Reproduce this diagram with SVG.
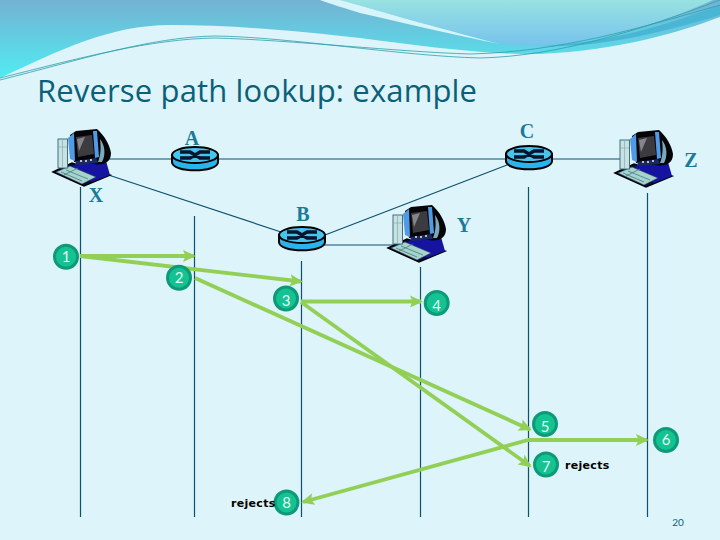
<svg xmlns="http://www.w3.org/2000/svg" width="720" height="540" viewBox="0 0 720 540">
<style>
.title{font-family:"Open Sans","Liberation Sans",sans-serif;font-size:31px;fill:#0c5f78}
.lbl{font-family:"Liberation Serif",serif;font-weight:bold;font-size:20px;fill:#1a7a98;text-anchor:middle}
.num{font-family:"Lato","Open Sans",sans-serif;font-size:15px;fill:#e4fbf6;text-anchor:middle}
.rej{font-family:"DejaVu Sans",sans-serif;font-weight:bold;font-size:11px;fill:#000;letter-spacing:.3px}
.pg{font-family:"Lato",sans-serif;font-size:10px;fill:#0c5f78;text-anchor:middle}
.thin{stroke:#0f4f70;stroke-width:1.2;fill:none}
.grn{stroke:#92cf55;stroke-width:3.8;fill:none}
.arr{marker-end:url(#ah)}
.c{fill:#14c391;stroke:#0d9a78;stroke-width:3}
</style>
<defs>
<linearGradient id="g1" x1="0" y1="0" x2="0" y2="1"><stop offset="0" stop-color="#74b2d2"/><stop offset="1" stop-color="#50ecf2"/></linearGradient>
<linearGradient id="g2" x1="0" y1="0" x2="0" y2="1"><stop offset="0" stop-color="#98e2e2"/><stop offset="1" stop-color="#76c2ec"/></linearGradient>
<marker id="ah" markerUnits="userSpaceOnUse" markerWidth="14" markerHeight="14" viewBox="0 0 14 14" refX="11" refY="7" orient="auto"><path d="M0,1 L13,7 L0,13 L2.500,7 Z" fill="#92cf55"/></marker>
<g id="router">
<path d="M-23,0 V7 C-23,18 23,18 23,7 V0 Z" fill="#2bb4ea" stroke="#000" stroke-width="2"/>
<ellipse cx="0" cy="0" rx="23" ry="8" fill="#46c4ee" stroke="#000" stroke-width="2"/>
<path d="M-15,-3 H-5 L5,3 H15 M-15,3 H-5 L5,-3 H15" stroke="#06142c" stroke-width="3.400" fill="none"/>
</g>
<g id="pc">
<path d="M3,47 L22,38 L60,50 L34,61 Z" fill="#04104a" stroke="#000" stroke-width="1.500"/>
<path d="M22,42 L30,35 L44,34 L56,36 L60,50 L42,57 Z" fill="#1414a0"/>
<path d="M6,47 L20,41 L46,52 L32,59 Z" fill="#a4d4cc" stroke="#335" stroke-width=".5"/>
<path d="M11,47 L32,56 M16,45 L38,54 M14,50 L28,43" stroke="#4a7a80" stroke-width=".8" fill="none"/>
<rect x="8" y="14" width="9.500" height="29" fill="#c8e2e4" stroke="#40707e" stroke-width="1"/>
<path d="M8,22 H17 M12.500,14 V43" stroke="#88aab4" stroke-width=".7"/>
<path d="M20,10 L26,6 L47,4 C54,10 60,20 61,28 C61,37 54,41 44,39 L24,37 Z" fill="#050508"/>
<path d="M50,14 C55,20 56,30 52,37 L48,37 C51,30 51,22 50,14 Z" fill="#7caab8"/>
<path d="M18,13 L24,8 L25,36 L20,34 Z" fill="#4f9be6"/>
<path d="M43,6 L47,6 L49,32 L45,33 Z" fill="#4f9be6"/>
<path d="M26,12 L42,10 L44,29 L28,32 Z" fill="#3c3c40"/>
<path d="M27,14 L35,12 L29,26 Z" fill="#85858b"/>
<path d="M25,36 L46,33 L48,38 L27,40 Z" fill="#1a2a60"/>
<circle cx="31" cy="36" r="1" fill="#eee"/><circle cx="36" cy="36" r="1" fill="#eee"/><circle cx="41" cy="35" r="1" fill="#eee"/>
</g>
</defs>

<g id="background">
<rect width="720" height="540" fill="#dcf4fa"/>
<path d="M0,0 H720 V17 C680,32 620,50 540,54 C490,55 430,47 360,38 C290,30 230,25 170,25 C110,25 60,50 0,78 Z" fill="url(#g1)"/>
<path d="M540,46 C610,43 670,24 720,5 V15 C660,33 600,48 540,46 Z" fill="#49b6d6"/>
<path d="M340,0 H713 C680,15 620,40 540,46 C525,46 510,45 498,43 C430,26 380,11 340,0 Z" fill="url(#g2)"/>
<path d="M320,0 H340 C380,11 430,26 500,44 C450,34 400,22 360,13 C345,8 330,4 320,0 Z" fill="#d6f5fa"/>
<path d="M0,80 C80,60 150,37 215,36 C290,37 400,56 480,58 C560,56 640,30 720,0" stroke="#2fa0ac" stroke-width=".8" fill="none"/>
<path d="M0,78 C80,58 150,39 215,38 C290,40 400,52 470,54 C560,52 640,28 720,5" stroke="#2fa0ac" stroke-width=".8" fill="none"/>
<text class="title" x="37" y="102" textLength="440" lengthAdjust="spacing">Reverse path lookup: example</text>
</g>

<g id="connectors">
<path class="thin" d="M108,159 H630"/>
<path class="thin" d="M110,175.500 L281,232"/>
<path class="thin" d="M325,235 L507,165"/>
<path class="thin" d="M324,245 H400"/>
<path class="thin" d="M80.500,187 V517 M194.500,216 V517 M301.500,261 V517 M420.500,267 V517 M528.500,187 V517 M647.500,193 V517"/>
<path class="grn arr" d="M80,256 H194"/>
<path class="grn arr" d="M80,256 L301,281.500"/>
<path class="grn arr" d="M195,278 L530,429.500"/>
<path class="grn arr" d="M301,301.500 H421"/>
<path class="grn arr" d="M301,302 L530,466"/>
<path class="grn arr" d="M528,440 L303,502"/>
<path class="grn arr" d="M528,440 H647"/>
</g>

<g id="router-A"><use href="#router" x="195" y="155"/><text class="lbl" x="192" y="145">A</text></g>
<g id="router-B"><use href="#router" x="302" y="235"/><text class="lbl" x="303" y="221">B</text></g>
<g id="router-C"><use href="#router" x="529" y="154"/><text class="lbl" x="527" y="138">C</text></g>
<g id="host-X"><use href="#pc" x="50" y="125"/><text class="lbl" x="96" y="202">X</text></g>
<g id="host-Y"><use href="#pc" x="385" y="201"/><text class="lbl" x="464" y="232">Y</text></g>
<g id="host-Z"><use href="#pc" x="612" y="126"/><text class="lbl" x="691" y="167">Z</text></g>

<g id="step-1"><circle class="c" cx="66" cy="256.700" r="11.500"/><text class="num" x="66" y="262">1</text></g>
<g id="step-2"><circle class="c" cx="179" cy="277.700" r="11.500"/><text class="num" x="179" y="283">2</text></g>
<g id="step-3"><circle class="c" cx="286" cy="298.500" r="11.500"/><text class="num" x="286" y="306">3</text></g>
<g id="step-4"><circle class="c" cx="436.700" cy="303" r="11.500"/><text class="num" x="436.700" y="311">4</text></g>
<g id="step-5"><circle class="c" cx="545" cy="424" r="11.500"/><text class="num" x="545" y="432">5</text></g>
<g id="step-6"><circle class="c" cx="666" cy="440" r="11.500"/><text class="num" x="666" y="445">6</text></g>
<g id="step-7"><circle class="c" cx="546" cy="464.500" r="11.500"/><text class="num" x="546" y="472">7</text></g>
<g id="step-8"><circle class="c" cx="286.500" cy="502.500" r="11.500"/><text class="num" x="286.500" y="508">8</text></g>

<text class="rej" x="565" y="469">rejects</text>
<text class="rej" x="231" y="507">rejects</text>
<text class="pg" x="678" y="526">20</text>
</svg>
